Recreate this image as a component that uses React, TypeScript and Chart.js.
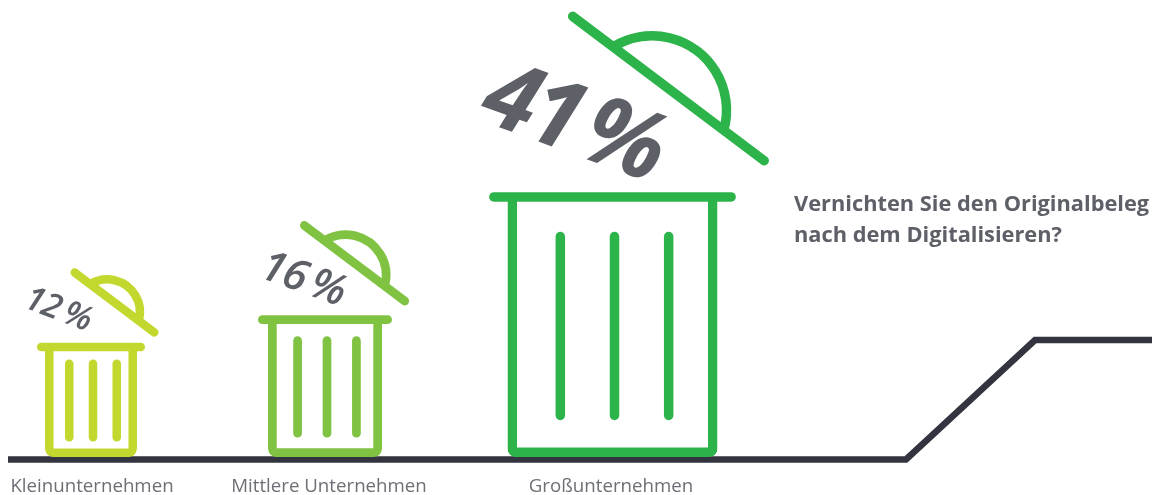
import React, { useEffect, useRef } from "react";
import { Chart, registerables, LinearScale } from "chart.js";

// Square-root value axis: the bins grow with the root of their share.
class SqrtScale extends LinearScale {
  static id = "sqrt";
  static defaults = LinearScale.defaults;
  getPixelForValue(value: number) {
    if (value === null || value === undefined) return NaN;
    const lo = Math.sqrt((this as any).min);
    const hi = Math.sqrt((this as any).max);
    return (this as any).getPixelForDecimal((Math.sqrt(value) - lo) / (hi - lo));
  }
  getValueForPixel(pixel: number) {
    const lo = Math.sqrt((this as any).min);
    const hi = Math.sqrt((this as any).max);
    const root = lo + (this as any).getDecimalForPixel(pixel) * (hi - lo);
    return root * root;
  }
}

Chart.register(...registerables, SqrtScale as any);

// Chart data
const categories = ["Kleinunternehmen", "Mittlere Unternehmen", "Großunternehmen"];
const shares = [12, 16, 41];
const question = ["Vernichten Sie den Originalbeleg", "nach dem Digitalisieren?"];
const groundX = [8, 906, 1035, 1152];
const groundLevel = [0.5, 0.5, 120, 120];

// Layout and styling
const binCentres = [91, 325, 612.5];
const binWidths = [92, 114, 210];
const categoryTickX = [92, 329, 611];
const binColours = ["#c3d82e", "#80c242", "#2cb34a"];
const percentPlacement = [
  { x: 58, y: 310, size: 34, angle: 21, weight: 600, spacing: -0.6 },
  { x: 303, y: 280, size: 43, angle: 20, weight: 600, spacing: -0.8 },
  { x: 572, y: 125, size: 95, angle: 20, weight: 700, spacing: -5 },
];
const textColour = "#5e6068";
const captionColour = "#6d6f76";
const groundColour = "#32353f";
const fontFamily = '"Open Sans", "Noto Sans", sans-serif';

const strokeFor = (w: number) => 7.8 + 0.008 * w;

function line(ctx: CanvasRenderingContext2D, x1: number, y1: number, x2: number, y2: number) {
  ctx.beginPath();
  ctx.moveTo(x1, y1);
  ctx.lineTo(x2, y2);
  ctx.stroke();
}

// Rim, slats, tilted lid and percentage label on top of each bin bar
const binDetails = {
  id: "binDetails",
  afterDatasetsDraw(chart: any) {
    const ctx: CanvasRenderingContext2D = chart.ctx;
    shares.forEach((share, i) => {
      const bar = chart.getDatasetMeta(i).data[0];
      const { x, y, base, width: w } = bar.getProps(["x", "y", "base", "width"], true);
      const s = strokeFor(w);
      ctx.save();
      ctx.strokeStyle = binColours[i];
      ctx.lineCap = "round";
      ctx.lineWidth = s;

      // rim
      const rim = w * 1.175;
      line(ctx, x - rim / 2 + s / 2, y, x + rim / 2 - s / 2, y);

      // slats
      const slatTop = y + 0.19 * w - 5 + s / 2;
      const slatBottom = base - (0.18 * w - 1) - s / 2;
      [-0.258, 0, 0.258].forEach((k) => line(ctx, x + 2 + k * w, slatTop, x + 2 + k * w, slatBottom));

      // lid
      const lidLength = 1.19 * w - 10;
      ctx.translate(x + 0.275 * w - 1.8, y - 0.542 * w + 5.4);
      ctx.rotate((37 * Math.PI) / 180);
      line(ctx, -lidLength / 2, 0, lidLength / 2, 0);

      // dome above the lid's bar
      const half = 0.33 * w;
      const sag = 0.225 * w;
      const radius = (half * half + sag * sag) / (2 * sag);
      const start = Math.atan2(sag - radius, -half);
      const end = Math.atan2(sag - radius, half);
      ctx.lineCap = "butt";
      ctx.beginPath();
      ctx.arc(0, radius - sag, radius, start, end);
      ctx.stroke();
      ctx.restore();

      // percentage
      const p = percentPlacement[i];
      ctx.save();
      ctx.translate(p.x, p.y);
      ctx.rotate((p.angle * Math.PI) / 180);
      ctx.font = `italic ${p.weight} ${p.size}px ${fontFamily}`;
      (ctx as any).letterSpacing = `${p.spacing}px`;
      ctx.fillStyle = textColour;
      ctx.textAlign = "center";
      ctx.textBaseline = "middle";
      ctx.fillText(`${share}\u2009%`, 0, 0);
      ctx.restore();
    });

    ctx.save();
    ctx.font = `700 21.8px ${fontFamily}`;
    ctx.fillStyle = textColour;
    ctx.textAlign = "left";
    ctx.textBaseline = "alphabetic";
    question.forEach((t, i) => ctx.fillText(t, 794, 211 + i * 31));
    ctx.restore();
  },
};

export default function App() {
  const ref = useRef<HTMLCanvasElement>(null);
  useEffect(() => {
    const chart = new Chart(ref.current as HTMLCanvasElement, {
      type: "bar",
      plugins: [binDetails],
      data: {
        datasets: [
          ...shares.map((share, i) => ({
            type: "bar" as const,
            label: categories[i],
            data: [{ x: binCentres[i], y: share }],
            base: 1.71,
            barThickness: binWidths[i],
            grouped: false,
            backgroundColor: "rgba(0,0,0,0)",
            borderColor: binColours[i],
            borderWidth: strokeFor(binWidths[i]),
            borderSkipped: "top",
            borderRadius: { topLeft: 0, topRight: 0, bottomLeft: 8, bottomRight: 8 },
            inflateAmount: 0,
            xAxisID: "x",
            yAxisID: "y",
            order: 0,
          })),
          {
            type: "line" as const,
            label: "Boden",
            data: groundX.map((x, i) => ({ x, y: groundLevel[i] })),
            borderColor: groundColour,
            borderWidth: 6.5,
            borderJoinStyle: "miter",
            pointRadius: 0,
            tension: 0,
            clip: false,
            xAxisID: "x",
            yAxisID: "yLevel",
            order: 1,
          },
        ] as any,
      },
      options: {
        animation: false,
        responsive: false,
        layout: { padding: 0 },
        plugins: { legend: { display: false }, tooltip: { enabled: false } },
        scales: {
          x: {
            type: "linear",
            min: 0,
            max: 1152,
            offset: false,
            grid: { display: false, drawTicks: false },
            border: { display: false },
            afterBuildTicks: (scale: any) => {
              scale.ticks = categoryTickX.map((value) => ({ value }));
            },
            afterFit: (scale: any) => {
              // Captions sit well inside the canvas, so the axis keeps its full width.
              scale.height = 35;
              scale.paddingLeft = 0;
              scale.paddingRight = 0;
            },
            ticks: {
              autoSkip: false,
              maxRotation: 0,
              minRotation: 0,
              padding: 15,
              color: captionColour,
              font: { family: fontFamily, size: 18.7 },
              callback: (_v: any, i: number) => categories[i],
            },
          },
          y: { type: "sqrt", display: false, min: 1.5625, max: 105.3 },
          yLevel: { type: "linear", display: false, min: 0, max: 460 },
        } as any,
      },
    });
    return () => chart.destroy();
  }, []);
  return (
    <div style={{ position: "absolute", left: 0, top: 0 }}>
      <canvas ref={ref} width={1152} height={495} style={{ display: "block" }} />
    </div>
  );
}
